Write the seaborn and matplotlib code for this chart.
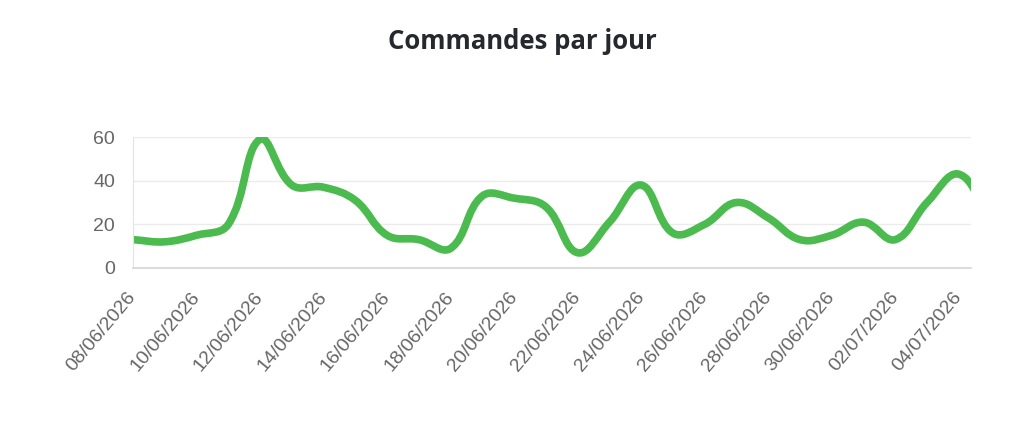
import matplotlib
matplotlib.use("Agg")
import matplotlib.pyplot as plt
import matplotlib.dates as mdates
from matplotlib.path import Path
from matplotlib.patches import PathPatch
import numpy as np
import pandas as pd
import seaborn as sns

# daily orders
start_date = "2026-06-08"
orders = [13, 12, 15, 20, 59, 38, 37, 31, 15, 13, 9, 33, 32, 28,
          7, 21, 38, 16, 20, 30, 23, 13, 15, 21, 13, 30, 43, 22]
y_ticks = [0, 20, 40, 60]
title = "Commandes par jour"

dates = pd.date_range(start_date, periods=len(orders), freq="D")
df = pd.DataFrame({"date": dates, "commandes": orders})

green = "#4cbb4f"
grey_text = "#666666"

sns.set_style("white")
plt.rcParams["font.family"] = ["Liberation Sans", "DejaVu Sans"]

fig = plt.figure(figsize=(10.24, 4.34), dpi=100)
ax = fig.add_axes([0.1299, 0.3825, 0.818, 0.3017])

sns.lineplot(data=df, x="date", y="commandes", ax=ax, color=green, lw=5.5)
ax.lines[0].set_visible(False)

ax.set_xlim(dates[0], dates[26] + pd.Timedelta(hours=9))
ax.set_ylim(0, 60)
ax.set_yticks(y_ticks)
ax.set_xticks(dates[:27:2])
ax.xaxis.set_major_formatter(mdates.DateFormatter("%d/%m/%Y"))
ax.set_xlabel("")
ax.set_ylabel("")

# smooth curve like chart.js (tension 0.4), built in pixel space
fig.canvas.draw()
xs = mdates.date2num(dates)
pts = ax.transData.transform(np.column_stack([xs, orders]))
t = 0.4
n = len(pts)
verts = [pts[0]]
codes = [Path.MOVETO]
cps = []
for i in range(n):
    p0 = pts[max(i - 1, 0)]
    p1 = pts[i]
    p2 = pts[min(i + 1, n - 1)]
    d01 = np.hypot(*(p1 - p0))
    d12 = np.hypot(*(p2 - p1))
    tot = d01 + d12 if d01 + d12 > 0 else 1
    fa = t * d01 / tot
    fb = t * d12 / tot
    cps.append((p1 - fa * (p2 - p0), p1 + fb * (p2 - p0)))
for i in range(1, n):
    verts += [cps[i - 1][1], cps[i][0], pts[i]]
    codes += [Path.CURVE4] * 3
verts = ax.transData.inverted().transform(np.array(verts))
curve = PathPatch(Path(verts, codes), fill=False, edgecolor=green, lw=5.5,
                  capstyle="round", joinstyle="round", transform=ax.transData)
ax.add_patch(curve)

ax.grid(axis="y", color="#ebebeb", lw=1)
ax.grid(axis="x", visible=False)
for s in ["top", "right"]:
    ax.spines[s].set_visible(False)
ax.spines["left"].set_color("#e3e3e3")
ax.spines["bottom"].set_color("#d6d6d6")
ax.spines["bottom"].set_linewidth(1.2)

ax.tick_params(axis="y", length=9, color="#ebebeb", pad=4, labelsize=14, labelcolor=grey_text)
ax.tick_params(axis="x", length=0, pad=19, labelsize=14, labelcolor=grey_text)
for lbl in ax.get_xticklabels():
    lbl.set_rotation(50)
    lbl.set_ha("right")
    lbl.set_va("center")
    lbl.set_rotation_mode("anchor")

fig.text(0.51, 0.905, title, ha="center", va="center", fontsize=18.5,
         fontweight="bold", color="#25292d", family=["Open Sans", "DejaVu Sans"])

fig.savefig("out.png", dpi=100, facecolor="white")
